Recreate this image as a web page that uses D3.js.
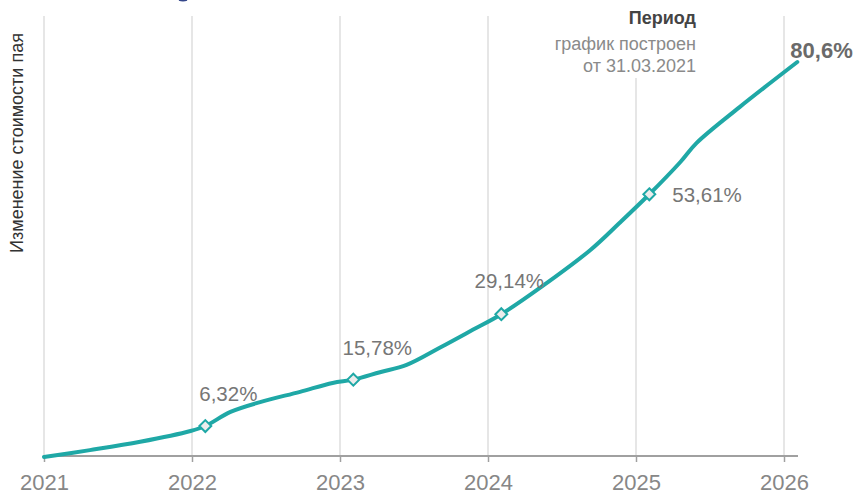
<!DOCTYPE html>
<html>
<head>
<meta charset="utf-8">
<script src="https://cdn.jsdelivr.net/npm/d3@7"></script>
<style>
    body { margin: 0; background: #fff; }
    svg { display: block; font-family: "Liberation Sans", Arial, sans-serif; }
</style>
</head>
<body>
<svg id="chart" width="860" height="495"></svg>
<script>
// curve: x in fractional years, y in % change
var curve_years = [2021.0, 2021.31, 2021.65, 2021.99, 2022.09, 2022.26, 2022.46, 2022.73, 2022.95,
    2023.09, 2023.27, 2023.45, 2023.68, 2023.90, 2024.09, 2024.36, 2024.69, 2024.89,
    2025.09, 2025.30, 2025.41, 2025.70, 2026.09];
var curve_values = [0, 1.4, 3.1, 5.3, 6.32, 9.2, 11.2, 13.3, 15.1,
    15.78, 17.3, 18.8, 22.4, 26.0, 29.14, 34.7, 42.2, 47.8,
    53.61, 60.2, 64.1, 71.4, 80.6];

// yearly markers
var marker_years = [2022.09, 2023.09, 2024.09, 2025.09];
var marker_values = [6.32, 15.78, 29.14, 53.61];
var marker_labels = ['6,32%', '15,78%', '29,14%', '53,61%'];

var tick_years = [2021, 2022, 2023, 2024, 2025, 2026];
var end_label = '80,6%';

var teal = '#1fa8a6';
var svg = d3.select('#chart');

var x = d3.scaleLinear().domain([2021, 2026]).range([44, 784]);
var y = d3.scaleLinear().domain([0, 80.6]).range([457, 62]);

// vertical grid
svg.append('g')
    .selectAll('line')
    .data(tick_years)
    .enter()
    .append('line')
    .attr('x1', function (d) { return x(d); })
    .attr('x2', function (d) { return x(d); })
    .attr('y1', 16)
    .attr('y2', 456)
    .attr('stroke', '#dedede')
    .attr('stroke-width', 1.5);

// x axis
var axis = svg.append('g')
    .attr('transform', 'translate(0,456)')
    .call(d3.axisBottom(x).tickValues(tick_years).tickFormat(d3.format('d')).tickSize(6).tickPadding(12));
axis.select('.domain').attr('d', 'M' + x(2021) + ',0H798').attr('stroke', '#a0a0a0').attr('stroke-width', 2);
axis.selectAll('.tick line').attr('stroke', '#a0a0a0').attr('stroke-width', 1.5);
axis.selectAll('.tick text').attr('fill', '#878787').attr('font-size', 22).attr('font-family', 'Liberation Sans, Arial, sans-serif');

// period note, white box hides the grid behind it
var note = svg.append('g');
note.append('rect').attr('x', 546).attr('y', 0).attr('width', 156).attr('height', 78).attr('fill', '#fff');
note.append('text').attr('x', 696).attr('y', 24).attr('text-anchor', 'end')
    .attr('font-size', 18).attr('font-weight', 'bold').attr('fill', '#444').text('Период');
note.append('text').attr('x', 696).attr('y', 50).attr('text-anchor', 'end')
    .attr('font-size', 18).attr('fill', '#8a8a8a').text('график построен');
note.append('text').attr('x', 696).attr('y', 72).attr('text-anchor', 'end')
    .attr('font-size', 18).attr('fill', '#8a8a8a').text('от 31.03.2021');

// y axis title
svg.append('text')
    .attr('transform', 'translate(23,143) rotate(-90)')
    .attr('text-anchor', 'middle')
    .attr('font-size', 18)
    .attr('fill', '#333')
    .text('Изменение стоимости пая');

// small clipped shape at the top edge
svg.append('path').attr('d', 'M179,0 Q183,1.5 187,0').attr('stroke', '#34468a').attr('stroke-width', 1.5).attr('fill', 'none');

// the line
var pts = curve_years.map(function (d, i) { return [d, curve_values[i]]; });
var line = d3.line()
    .x(function (d) { return x(d[0]); })
    .y(function (d) { return y(d[1]); })
    .curve(d3.curveCatmullRom.alpha(0.5));
svg.append('path')
    .datum(pts)
    .attr('d', line)
    .attr('fill', 'none')
    .attr('stroke', teal)
    .attr('stroke-width', 4)
    .attr('stroke-linecap', 'round');

// markers
var diamond = d3.symbol().type(d3.symbolDiamond2).size(90);
svg.append('g')
    .selectAll('path')
    .data(marker_years)
    .enter()
    .append('path')
    .attr('d', diamond)
    .attr('transform', function (d, i) { return 'translate(' + x(d) + ',' + y(marker_values[i]) + ')'; })
    .attr('fill', '#ececec')
    .attr('stroke', teal)
    .attr('stroke-width', 2);

// marker labels (offsets keep them clear of the line)
var label_dx = [23, 24, 8, 23];
var label_dy = [-25, -25, -26, 8];
var label_anchor = ['middle', 'middle', 'middle', 'start'];
svg.append('g')
    .selectAll('text')
    .data(marker_labels)
    .enter()
    .append('text')
    .attr('x', function (d, i) { return x(marker_years[i]) + label_dx[i]; })
    .attr('y', function (d, i) { return y(marker_values[i]) + label_dy[i]; })
    .attr('text-anchor', function (d, i) { return label_anchor[i]; })
    .attr('font-size', 20.5)
    .attr('fill', '#767676')
    .text(function (d) { return d; });

// final value
var last = pts[pts.length - 1];
svg.append('text')
    .attr('x', x(last[0]) - 7)
    .attr('y', y(last[1]) - 4)
    .attr('font-size', 22)
    .attr('font-weight', 'bold')
    .attr('fill', '#6a6a6a')
    .text(end_label);
</script>
</body>
</html>
